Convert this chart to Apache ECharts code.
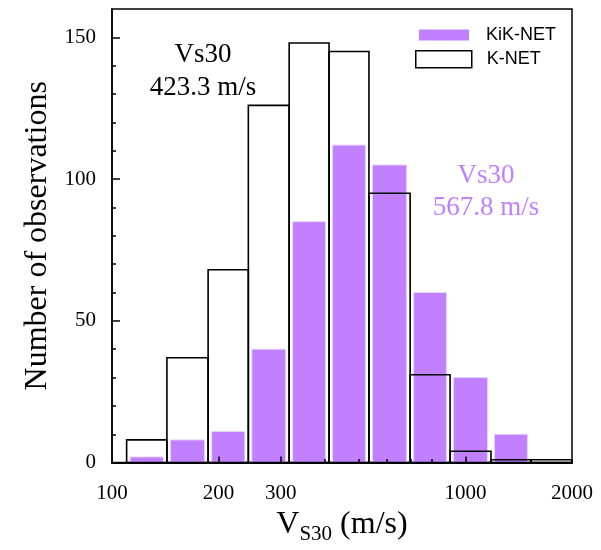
<!DOCTYPE html>
<html>
<head>
<meta charset="utf-8">
<script src="https://cdn.jsdelivr.net/npm/echarts@6/dist/echarts.min.js"></script>
<style>
  html, body { margin: 0; padding: 0; background: #fff; }
  #chart { width: 601px; height: 550px; }
</style>
</head>
<body>
<div id="chart"></div>
<script>
// Vs30 histogram bin edges (m/s), log-spaced
const binEdges = [110, 143, 187, 243, 317, 411, 533, 697, 904, 1180, 1531, 2000];
// station counts per bin
const kiknetCounts = [2, 8, 11, 40, 85, 112, 105, 60, 30, 10, 0];
const knetCounts = [8, 37, 68, 126, 148, 145, 95, 31, 4, 1, 1];
// axis ticks
const xTickLabels = [100, 200, 300, 1000, 2000];
const xMajorTicks = [200, 300, 1000];
const xMinorTicks = [400, 500, 600, 700, 800, 900];
const yTickLabels = [0, 50, 100, 150];
const yMinorTicks = [10, 20, 30, 40, 60, 70, 80, 90, 110, 120, 130, 140];
// mean Vs30 annotations
const knetMean = '423.3 m/s';
const kiknetMean = '567.8 m/s';

const PURPLE = '#C080FF';
const SERIF = '"Liberation Serif", "Times New Roman", serif';
const SANS = '"Liberation Sans", Arial, sans-serif';

function toBins(counts) {
  const out = [];
  counts.forEach((c, i) => {
    if (c > 0) out.push([binEdges[i], binEdges[i + 1], c]);
  });
  return out;
}

// one rectangle per bin, spanning [lo, hi] on the log axis
function binRenderer(inset, style) {
  return function (params, api) {
    const topLeft = api.coord([api.value(0), api.value(2)]);
    const bottomRight = api.coord([api.value(1), 0]);
    return {
      type: 'rect',
      shape: {
        x: topLeft[0] + inset,
        y: topLeft[1],
        width: bottomRight[0] - topLeft[0] - 2 * inset,
        height: bottomRight[1] - topLeft[1]
      },
      style: style
    };
  };
}

const chart = echarts.init(document.getElementById('chart'), null, { renderer: 'canvas' });

chart.setOption({
  animation: false,
  backgroundColor: '#fff',
  grid: {
    left: 112, right: 29, top: 9, bottom: 82,
    show: true, borderColor: '#000', borderWidth: 1.5, backgroundColor: 'transparent'
  },
  legend: [
    {
      data: [{ name: 'KiK-NET', icon: 'rect', itemStyle: { color: PURPLE, borderWidth: 0 } }],
      left: 419, top: 26, padding: 0, itemWidth: 50, itemHeight: 11,
      selectedMode: false,
      textStyle: { fontFamily: SANS, fontSize: 18, color: '#000', padding: [0, 0, 0, 12] }
    },
    {
      data: [{ name: 'K-NET', icon: 'rect', itemStyle: { color: '#fff', borderColor: '#000', borderWidth: 1.5 } }],
      left: 415, top: 50, padding: 0, itemWidth: 56, itemHeight: 17,
      selectedMode: false,
      textStyle: { fontFamily: SANS, fontSize: 18, color: '#000', padding: [0, 0, 0, 10] }
    }
  ],
  xAxis: [
    {
      type: 'log', logBase: 10, min: 100, max: 2000, position: 'bottom', z: 10,
      axisLine: { show: true, onZero: false, lineStyle: { color: '#000', width: 2 } },
      axisTick: { show: true, inside: true, length: 6, customValues: xMajorTicks, lineStyle: { color: '#000', width: 1.5 } },
      axisLabel: {
        customValues: xTickLabels, margin: 20, formatter: v => String(Math.round(v)),
        fontFamily: SERIF, fontSize: 21, color: '#000'
      },
      splitLine: { show: false },
      minorTick: { show: false },
      name: '{v|V}{s|S30}{v| (m/s)}',
      nameLocation: 'middle',
      nameGap: 41,
      nameTextStyle: {
        rich: {
          v: { fontFamily: SERIF, fontSize: 32, color: '#000' },
          s: { fontFamily: SERIF, fontSize: 21, color: '#000', padding: [20, 0, 0, 0] }
        }
      }
    },
    {
      type: 'log', logBase: 10, min: 100, max: 2000, position: 'bottom', z: 10,
      axisLine: { show: false, onZero: false },
      axisTick: { show: true, inside: true, length: 3.5, customValues: xMinorTicks, lineStyle: { color: '#000', width: 1.5 } },
      axisLabel: { show: false },
      splitLine: { show: false }
    }
  ],
  yAxis: [
    {
      type: 'value', min: 0, max: 160, interval: 50, z: 10,
      axisLine: { show: true, onZero: false, lineStyle: { color: '#000', width: 1.5 } },
      axisTick: { show: true, inside: true, length: 8, customValues: yTickLabels, lineStyle: { color: '#000', width: 1.5 } },
      axisLabel: { customValues: yTickLabels, margin: 16, fontFamily: SERIF, fontSize: 21, color: '#000' },
      splitLine: { show: false },
      name: 'Number of observations',
      nameLocation: 'middle',
      nameRotate: 90,
      nameGap: 52,
      nameTextStyle: { fontFamily: SERIF, fontSize: 32, color: '#000' }
    },
    {
      type: 'value', min: 0, max: 160, position: 'left', z: 10,
      axisLine: { show: false, onZero: false },
      axisTick: { show: true, inside: true, length: 4, customValues: yMinorTicks, lineStyle: { color: '#000', width: 1.5 } },
      axisLabel: { show: false },
      splitLine: { show: false }
    }
  ],
  series: [
    {
      name: 'KiK-NET',
      type: 'custom',
      xAxisIndex: 0, yAxisIndex: 0,
      itemStyle: { color: PURPLE },
      encode: { x: [0, 1], y: 2 },
      data: toBins(kiknetCounts),
      renderItem: binRenderer(3.5, { fill: PURPLE, stroke: '#E8D4FF', lineWidth: 1 }),
      z: 2
    },
    {
      name: 'K-NET',
      type: 'custom',
      xAxisIndex: 0, yAxisIndex: 0,
      itemStyle: { color: '#fff', borderColor: '#000', borderWidth: 1.5 },
      encode: { x: [0, 1], y: 2 },
      data: toBins(knetCounts),
      renderItem: binRenderer(0, { fill: 'none', stroke: '#000', lineWidth: 1.6 }),
      z: 3
    }
  ],
  graphic: [
    {
      type: 'text', x: 203, y: 71, z: 10,
      style: {
        text: 'Vs30\n' + knetMean, fill: '#000',
        fontFamily: SERIF, fontSize: 27, lineHeight: 33,
        align: 'center', verticalAlign: 'middle'
      }
    },
    {
      type: 'text', x: 486, y: 192, z: 10,
      style: {
        text: 'Vs30\n' + kiknetMean, fill: PURPLE,
        fontFamily: SERIF, fontSize: 27, lineHeight: 32,
        align: 'center', verticalAlign: 'middle'
      }
    }
  ]
});
</script>
</body>
</html>
